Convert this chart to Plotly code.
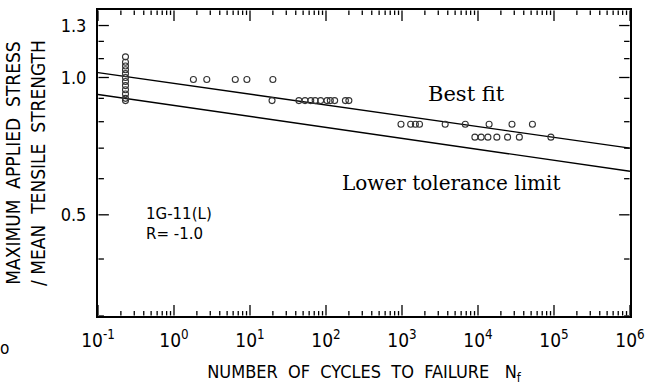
import plotly.graph_objects as go
import math

# ---- data ----
cluster_N = [0.23] * 12
cluster_S = [1.11, 1.08, 1.06, 1.04, 1.02, 1.00, 0.98, 0.96, 0.94, 0.92, 0.90, 0.89]

pts_N = [1.8, 2.7, 6.4, 9.1, 20, 19.5,
         44, 53, 63, 72, 85, 103, 114, 130, 180, 200,
         970, 1300, 1500, 1700, 3700, 6800, 14000, 28000, 52000,
         9100, 11000, 13500, 17700, 24500, 35000, 91000]
pts_S = [0.99, 0.99, 0.99, 0.99, 0.99, 0.89,
         0.89, 0.89, 0.89, 0.89, 0.89, 0.89, 0.89, 0.89, 0.89, 0.89,
         0.79, 0.79, 0.79, 0.79, 0.79, 0.79, 0.79, 0.79, 0.79,
         0.74, 0.74, 0.74, 0.74, 0.74, 0.74, 0.74]

fit_N = [0.1, 1e6]
best_fit_S = [1.025, 0.70]
lower_limit_S = [0.918, 0.623]

x_tickvals = [0.1, 1, 10, 100, 1000, 10000, 100000, 1000000]
x_ticktext = ["10<sup>-1</sup>", "10<sup>0</sup>", "10<sup>1</sup>", "10<sup>2</sup>",
              "10<sup>3</sup>", "10<sup>4</sup>", "10<sup>5</sup>", "10<sup>6</sup>"]
y_tickvals = [0.5, 1.0, 1.3]
y_ticktext = ["0.5", "1.0", "1.3"]
y_minor = [0.3, 0.4, 0.6, 0.7, 0.8, 0.9, 1.1, 1.2]
x_minor = [m * 10 ** e for e in range(-1, 6) for m in range(2, 10)]

SANS = "Liberation Sans Narrow, DejaVu Sans Condensed, Arial Narrow, sans-serif"
SERIF = "DejaVu Serif, serif"

L, R, T, B = 98, 17, 8, 74
W, H = 653, 390
pw, ph = W - L - R, H - T - B

XR = [-1, 6]
YR = [math.log10(0.3), math.log10(1.406)]
ypp = (YR[1] - YR[0]) / ph   # log10 units per pixel (y)
xpp = (XR[1] - XR[0]) / pw   # log10 units per pixel (x)

fig = go.Figure()

# ---- tick marks first: short segments at the tick values, via the log scales ----
tx, ty = [], []
for vals, ln in ((x_tickvals, 11), (x_minor, 5)):
    for v in vals:
        tx += [v, v, None, v, v, None]
        ty += [10 ** (YR[0] + 0.5 * ypp), 10 ** (YR[0] + ln * ypp), None,
               10 ** (YR[1] - 0.5 * ypp), 10 ** (YR[1] - ln * ypp), None]
for vals, ln in ((y_tickvals, 11), (y_minor, 6)):
    for v in vals:
        ty += [v, v, None, v, v, None]
        tx += [10 ** (XR[0] + 0.5 * xpp), 10 ** (XR[0] + ln * xpp), None,
               10 ** (XR[1] - 0.5 * xpp), 10 ** (XR[1] - ln * xpp), None]
fig.add_trace(go.Scatter(x=tx, y=ty, mode="lines",
                         line=dict(color="#000000", width=1.3),
                         showlegend=False, hoverinfo="skip"))

fig.add_trace(go.Scatter(x=fit_N, y=best_fit_S, mode="lines",
                         line=dict(color="black", width=1.4), showlegend=False))
fig.add_trace(go.Scatter(x=fit_N, y=lower_limit_S, mode="lines",
                         line=dict(color="black", width=1.4), showlegend=False))
fig.add_trace(go.Scatter(x=cluster_N + pts_N, y=cluster_S + pts_S, mode="markers",
                         marker=dict(symbol="circle-open", size=6, color="#333",
                                     line=dict(width=1.1)),
                         showlegend=False))

fig.update_layout(
    xaxis=dict(type="log", range=XR,
               tickmode="array", tickvals=x_tickvals, ticktext=x_ticktext,
               ticks="", showline=True, linecolor="black", linewidth=1.5, mirror=True,
               showgrid=False, zeroline=False, ticklabelstandoff=6,
               tickfont=dict(family=SANS, size=19, color="black"),
               title=dict(text="NUMBER&nbsp;&nbsp;OF&nbsp;&nbsp;CYCLES&nbsp;&nbsp;TO&nbsp;&nbsp;FAILURE&nbsp;&nbsp;&nbsp;N<sub>f</sub>",
                          font=dict(family=SANS, size=18, color="black"), standoff=16)),
    yaxis=dict(type="log", range=YR,
               tickmode="array", tickvals=y_tickvals, ticktext=y_ticktext,
               ticks="", showline=True, linecolor="black", linewidth=2, mirror=True,
               showgrid=False, zeroline=False, ticklabelstandoff=6,
               tickfont=dict(family=SANS, size=18, color="black"),
               title=dict(text="MAXIMUM&nbsp;&nbsp;APPLIED&nbsp;&nbsp;STRESS<br>/ MEAN&nbsp;&nbsp;TENSILE&nbsp;&nbsp;STRENGTH",
                          font=dict(family=SANS, size=19, color="black"), standoff=10)),
)


def px(xp, yp):
    return (xp - L) / pw, 1 - (yp - T) / ph


def note(text, xp, yp, font, xanchor="center"):
    ax_, ay_ = px(xp, yp)
    fig.add_annotation(x=ax_, y=ay_, xref="paper", yref="paper", text=text,
                       xanchor=xanchor, yanchor="middle", showarrow=False, font=font)


note("Best fit", 471, 93, dict(family=SERIF, size=21, color="black"))
note("Lower tolerance limit", 455, 182, dict(family=SERIF, size=20, color="black"))
note("1G-11(L)", 145, 213, dict(family="DejaVu Sans", size=15, color="black"), "left")
note("R= -1.0", 145, 233, dict(family="DejaVu Sans", size=15, color="black"), "left")
note("o", 3, 348, dict(family=SANS, size=17, color="black"))

fig.update_layout(width=W, height=H, margin=dict(l=L, r=R, t=T, b=B),
                  paper_bgcolor="white", plot_bgcolor="white",
                  font=dict(family=SANS, color="black"))
fig.write_html("out.html")
